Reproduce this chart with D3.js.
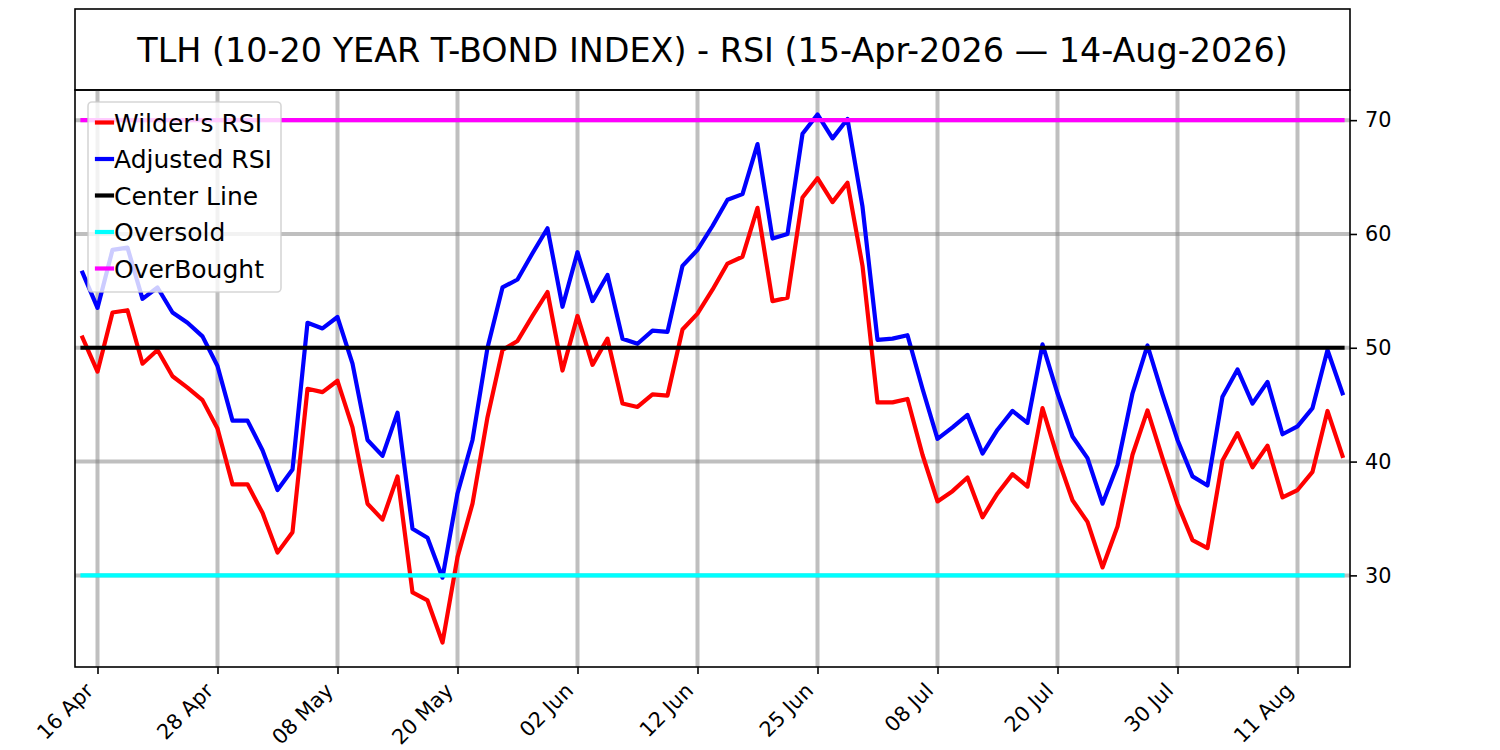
<!DOCTYPE html>
<html>
<head>
<meta charset="utf-8">
<script src="https://cdn.jsdelivr.net/npm/d3@7"></script>
<style>
  html, body { margin: 0; padding: 0; background: #fff; }
  svg { display: block; font-family: "DejaVu Sans", sans-serif; }
</style>
</head>
<body>
<svg id="chart" width="1500" height="750"></svg>
<script>
// ---- Data ----
const dates = [
  "2026-04-15","2026-04-16","2026-04-17","2026-04-20","2026-04-21","2026-04-22","2026-04-23","2026-04-24","2026-04-27","2026-04-28","2026-04-29","2026-04-30",
  "2026-05-01","2026-05-04","2026-05-05","2026-05-06","2026-05-07","2026-05-08","2026-05-11","2026-05-12","2026-05-13","2026-05-14","2026-05-15","2026-05-18","2026-05-19","2026-05-20","2026-05-21","2026-05-22","2026-05-26","2026-05-27","2026-05-28","2026-05-29",
  "2026-06-01","2026-06-02","2026-06-03","2026-06-04","2026-06-05","2026-06-08","2026-06-09","2026-06-10","2026-06-11","2026-06-12","2026-06-15","2026-06-16","2026-06-17","2026-06-18","2026-06-22","2026-06-23","2026-06-24","2026-06-25","2026-06-26","2026-06-29","2026-06-30",
  "2026-07-01","2026-07-02","2026-07-06","2026-07-07","2026-07-08","2026-07-09","2026-07-10","2026-07-13","2026-07-14","2026-07-15","2026-07-16","2026-07-17","2026-07-20","2026-07-21","2026-07-22","2026-07-23","2026-07-24","2026-07-27","2026-07-28","2026-07-29","2026-07-30","2026-07-31",
  "2026-08-03","2026-08-04","2026-08-05","2026-08-06","2026-08-07","2026-08-10","2026-08-11","2026-08-12","2026-08-13","2026-08-14"
];

const wildersRSI = [
  50.9, 47.9, 53.1, 53.3, 48.6, 49.8, 47.5, 46.5, 45.4, 42.9,
  38.0, 38.0, 35.5, 32.0, 33.8, 46.4, 46.1, 47.1, 43.0, 36.3,
  34.9, 38.7, 28.5, 27.8, 24.1, 31.6, 36.3, 43.9, 49.8, 50.6,
  52.8, 54.9, 48.0, 52.8, 48.5, 50.8, 45.1, 44.8, 45.9, 45.8,
  51.6, 53.0, 55.1, 57.4, 58.0, 62.3, 54.1, 54.4, 63.2, 64.9,
  62.8, 64.5, 57.2, 45.2, 45.2, 45.5, 40.6, 36.5, 37.4, 38.6,
  35.1, 37.2, 38.9, 37.8, 44.7, 40.4, 36.6, 34.7, 30.7, 34.3,
  40.6, 44.5, 40.3, 36.3, 33.1, 32.4, 40.1, 42.5, 39.5, 41.4,
  36.85, 37.5, 39.1, 44.45, 40.5
];

const adjustedRSI = [
  56.6, 53.5, 58.6, 58.8, 54.3, 55.3, 53.1, 52.2, 51.0, 48.4,
  43.6, 43.6, 41.0, 37.5, 39.3, 52.2, 51.7, 52.7, 48.6, 41.9,
  40.5, 44.3, 34.1, 33.3, 29.8, 37.2, 41.9, 50.0, 55.3, 56.0,
  58.3, 60.5, 53.6, 58.4, 54.1, 56.4, 50.8, 50.35, 51.5, 51.4,
  57.2, 58.6, 60.7, 63.0, 63.5, 67.9, 59.6, 60.0, 68.8, 70.5,
  68.4, 70.1, 62.4, 50.7, 50.8, 51.1, 46.4, 42.0, 43.0, 44.1,
  40.7, 42.8, 44.45, 43.4, 50.3, 46.0, 42.2, 40.3, 36.3, 39.7,
  46.0, 50.2, 45.9, 41.9, 38.7, 37.9, 45.7, 48.1, 45.1, 47.0,
  42.4, 43.1, 44.7, 49.8, 46.0
];

const centerLine = 50;
const oversold = 30;
const overbought = 70;

const tickDates = ["2026-04-16","2026-04-28","2026-05-08","2026-05-20","2026-06-02","2026-06-12","2026-06-25","2026-07-08","2026-07-20","2026-07-30","2026-08-11"];
const tickLabels = ["16 Apr","28 Apr","08 May","20 May","02 Jun","12 Jun","25 Jun","08 Jul","20 Jul","30 Jul","11 Aug"];
const yTicks = [30, 40, 50, 60, 70];
const yLimits = [21.95, 72.65];

const title = "TLH (10-20 YEAR T-BOND INDEX) - RSI (15-Apr-2026 \u2014 14-Aug-2026)";

const legendItems = [
  { label: "Wilder's RSI", color: "#ff0000" },
  { label: "Adjusted RSI", color: "#0000ff" },
  { label: "Center Line", color: "#000000" },
  { label: "Oversold", color: "#00ffff" },
  { label: "OverBought", color: "#ff00ff" }
];

// ---- Layout ----
const L = 75, R = 1350, T = 90, B = 667;
const svg = d3.select("#chart");

const x = d3.scaleLinear().domain([-0.5, dates.length - 0.5]).range([L, R]);
const y = d3.scaleLinear().domain(yLimits).range([B, T]);

// Title box
svg.append("rect").attr("x", L).attr("y", 9).attr("width", R - L).attr("height", T - 9)
  .attr("fill", "#fff").attr("stroke", "#000").attr("stroke-width", 1.6);
svg.append("text").attr("x", (L + R) / 2).attr("y", 61.5).attr("text-anchor", "middle")
  .attr("font-size", 33.4).attr("fill", "#000").text(title);

// Clip
svg.append("clipPath").attr("id", "clip").append("rect")
  .attr("x", L).attr("y", T).attr("width", R - L).attr("height", B - T);

const plot = svg.append("g").attr("clip-path", "url(#clip)");

const tickIdx = tickDates.map(d => dates.indexOf(d));

// Grid
plot.append("g").selectAll("line").data(tickIdx).join("line")
  .attr("x1", d => x(d)).attr("x2", d => x(d)).attr("y1", T).attr("y2", B)
  .attr("stroke", "#808080").attr("stroke-opacity", 0.5).attr("stroke-width", 4);
plot.append("g").selectAll("line").data(yTicks).join("line")
  .attr("x1", L).attr("x2", R).attr("y1", d => y(d)).attr("y2", d => y(d))
  .attr("stroke", "#808080").attr("stroke-opacity", 0.5).attr("stroke-width", 4);

// Data lines
const line = d3.line().x((d, i) => x(i)).y(d => y(d));
plot.append("path").datum(wildersRSI).attr("d", line)
  .attr("fill", "none").attr("stroke", "#ff0000").attr("stroke-width", 4.2)
  .attr("stroke-linejoin", "round").attr("stroke-linecap", "square");
plot.append("path").datum(adjustedRSI).attr("d", line)
  .attr("fill", "none").attr("stroke", "#0000ff").attr("stroke-width", 4.2)
  .attr("stroke-linejoin", "round").attr("stroke-linecap", "square");

// Reference lines
const refs = [
  { v: centerLine, color: "#000000" },
  { v: oversold, color: "#00ffff" },
  { v: overbought, color: "#ff00ff" }
];
plot.append("g").selectAll("line").data(refs).join("line")
  .attr("x1", x(0)).attr("x2", x(dates.length - 1))
  .attr("y1", d => y(d.v)).attr("y2", d => y(d.v))
  .attr("stroke", d => d.color).attr("stroke-width", 4.2).attr("stroke-linecap", "square");

// Spines
svg.append("rect").attr("x", L).attr("y", T).attr("width", R - L).attr("height", B - T)
  .attr("fill", "none").attr("stroke", "#000").attr("stroke-width", 1.6);

// Axes
const xAxis = d3.axisBottom(x).tickValues(tickIdx)
  .tickFormat((d, i) => tickLabels[i]).tickSize(7).tickSizeOuter(0);
const gx = svg.append("g").attr("transform", `translate(0,${B})`).call(xAxis);
gx.attr("font-size", null).attr("font-family", null);
gx.select(".domain").remove();
gx.selectAll(".tick line").attr("stroke", "#000").attr("stroke-width", 1.6);
gx.selectAll(".tick text")
  .attr("font-size", 20.8).attr("font-family", "DejaVu Sans").attr("fill", "#000")
  .attr("text-anchor", "end").attr("dy", null).attr("y", null)
  .attr("transform", "translate(-3.5,25) rotate(-45)");

const yAxis = d3.axisRight(y).tickValues(yTicks).tickSize(7).tickPadding(8).tickSizeOuter(0);
const gy = svg.append("g").attr("transform", `translate(${R},0)`).call(yAxis);
gy.attr("font-size", null).attr("font-family", null);
gy.select(".domain").remove();
gy.selectAll(".tick line").attr("stroke", "#000").attr("stroke-width", 1.6);
gy.selectAll(".tick text").attr("font-size", 20.8).attr("font-family", "DejaVu Sans").attr("fill", "#000");

// Legend
const lg = svg.append("g");
lg.append("rect").attr("x", 88).attr("y", 102).attr("width", 193).attr("height", 190)
  .attr("rx", 4).attr("fill", "#fff").attr("fill-opacity", 0.8)
  .attr("stroke", "#cccccc").attr("stroke-opacity", 0.8).attr("stroke-width", 1.6);
const rowH = 36.5, row0 = 122.5;
const items = lg.selectAll("g.item").data(legendItems).join("g")
  .attr("transform", (d, i) => `translate(0,${row0 + i * rowH})`);
items.append("line").attr("x1", 97).attr("x2", 112).attr("y1", 0).attr("y2", 0)
  .attr("stroke", d => d.color).attr("stroke-width", 4.2).attr("stroke-linecap", "square");
items.append("text").attr("x", 114).attr("y", 9).attr("font-size", 25).attr("fill", "#000")
  .text(d => d.label);
</script>
</body>
</html>
